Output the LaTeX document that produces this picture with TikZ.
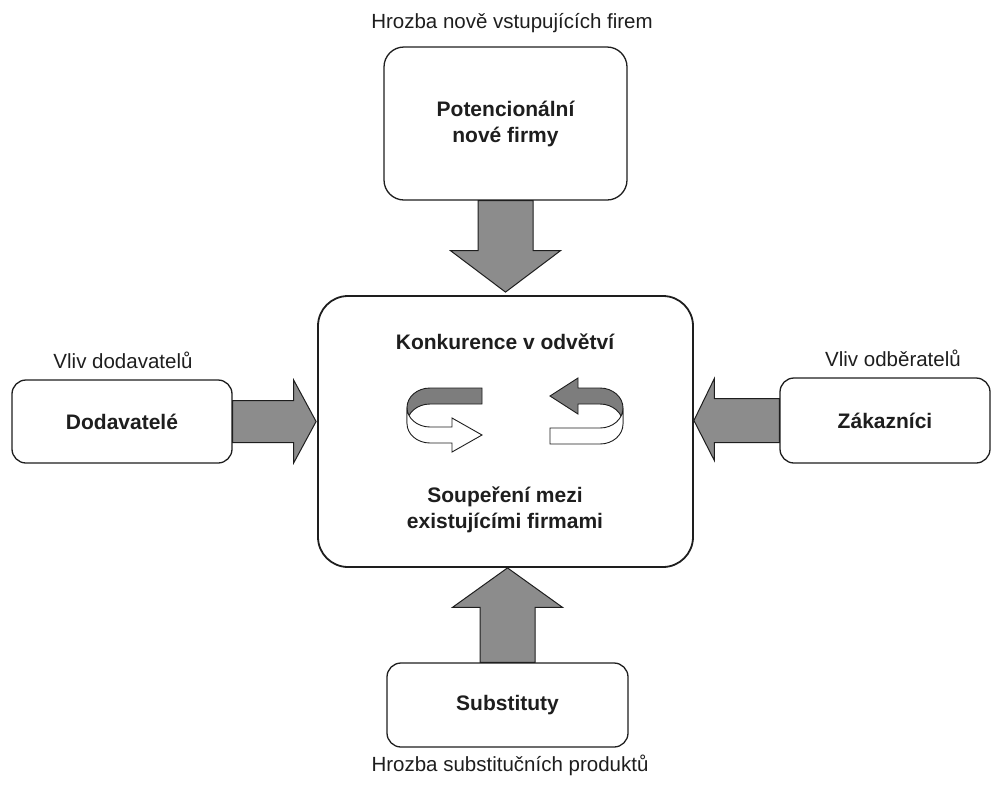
\documentclass[tikz,border=0pt]{standalone}
\usepackage{fontspec}
\setmainfont{Liberation Sans}
\usetikzlibrary{calc}
\definecolor{arrgray}{RGB}{140,140,140}
\definecolor{bandgray}{RGB}{125,125,125}
\definecolor{ink}{RGB}{30,30,30}
\begin{document}
\begin{tikzpicture}[x=1pt,y=-1pt,
  box/.style={draw=ink, line width=1.3pt, rounded corners=20pt, fill=white, inner sep=0pt, align=center,
    font=\bfseries\fontsize{21}{26}\selectfont, text=ink},
  lbl/.style={font=\fontsize{20.5}{24}\selectfont, text=ink, inner sep=0pt},
  btitle/.style={font=\bfseries\fontsize{21}{25.5}\selectfont, text=ink, align=center, inner sep=0pt},
  blockarrow/.style={draw=ink, line width=1pt, fill=arrgray, line join=miter},
  backband/.style={draw=ink, line width=0.9pt, fill=bandgray, line join=miter},
  frontband/.style={draw=ink, line width=0.9pt, fill=white, line join=miter}]
\useasboundingbox (0,0) rectangle (992,785);

% boxes
\node[box, minimum width=243pt, minimum height=153pt] (pot) at (505.5,123.5) {Potencionální\\nové firmy};
\node[box, line width=1.8pt, rounded corners=30pt, minimum width=375pt, minimum height=271pt] (ind) at (505.5,431.5) {};
\node[box, rounded corners=14pt, minimum width=220pt, minimum height=83pt] (sup) at (122,421.5) {Dodavatelé};
\node[box, rounded corners=14pt, minimum width=210pt, minimum height=85pt] (cus) at (885,420.5) {Zákazníci};
\node[box, rounded corners=14pt, minimum width=241pt, minimum height=84pt] (sub) at (507.5,705) {Substituty};

% labels
\node[lbl] (tnew) at (512,23) {Hrozba nově vstupujících firem};
\node[lbl] (tsup) at (123,360) {Vliv dodavatelů};
\node[lbl] (tcus) at (893,358) {Vliv odběratelů};
\node[lbl] (tsub) at (510,765) {Hrozba substitučních produktů};

% central texts
\node[btitle] (konk) at (505,342) {Konkurence v odvětví};
\node[btitle] (soup) at (505,510) {Soupeření mezi\\existujícími firmami};

% block arrows
\draw[blockarrow] ($(pot.south)+(-27.5,0)$) -- ($(pot.south)+(27.5,0)$) -- ($(pot.south)+(27.5,50)$)
  -- ($(pot.south)+(55,50)$) -- ($(ind.north)+(0,-3)$) -- ($(pot.south)+(-55,50)$)
  -- ($(pot.south)+(-27.5,50)$) -- cycle;

\coordinate (lt) at (ind.west |- sup.east);
\draw[blockarrow] ($(sup.east)+(0,-21)$) -- ($(sup.east)+(61,-21)$) -- ($(sup.east)+(61,-41.5)$)
  -- ($(lt)+(-1,0)$) -- ($(sup.east)+(61,41.5)$) -- ($(sup.east)+(61,21)$) -- ($(sup.east)+(0,21)$) -- cycle;

\coordinate (rt) at (ind.east |- cus.west);
\draw[blockarrow] ($(cus.west)+(0,-22)$) -- ($(cus.west)+(-65,-22)$) -- ($(cus.west)+(-65,-42)$)
  -- (rt) -- ($(cus.west)+(-65,40)$) -- ($(cus.west)+(-65,22)$) -- ($(cus.west)+(0,22)$) -- cycle;

\coordinate (bt) at (sub.north |- ind.south);
\draw[blockarrow] ($(sub.north)+(-27.5,0)$) -- ($(sub.north)+(-27.5,-55)$) -- ($(sub.north)+(-55,-55)$)
  -- (bt) -- ($(sub.north)+(55,-55)$) -- ($(sub.north)+(27.5,-55)$) -- ($(sub.north)+(27.5,0)$) -- cycle;

% left circular arrow
\draw[backband] (482,388) -- (430,388) arc[start angle=270, end angle=180, x radius=23, y radius=19.5]
  -- (407,423.5) arc[start angle=180, end angle=270, x radius=23, y radius=19.5] -- (482,404) -- cycle;
\draw[frontband] (407,407.5) arc[start angle=180, end angle=90, x radius=23, y radius=19.5]
  -- (452,427) -- (452,418) -- (482,435) -- (452,452) -- (452,443) -- (430,443)
  arc[start angle=90, end angle=180, x radius=23, y radius=19.5] -- cycle;

% right circular arrow
\draw[backband] (578,388) -- (600,388) arc[start angle=-90, end angle=0, x radius=23, y radius=20]
  -- (623,424) arc[start angle=0, end angle=-90, x radius=23, y radius=20]
  -- (578,404) -- (578,414) -- (550,396) -- (578,378) -- cycle;
\draw[frontband] (623,408) arc[start angle=0, end angle=90, x radius=23, y radius=20]
  -- (550,428) -- (550,444) -- (600,444) arc[start angle=90, end angle=0, x radius=23, y radius=20] -- cycle;
\end{tikzpicture}
\end{document}
